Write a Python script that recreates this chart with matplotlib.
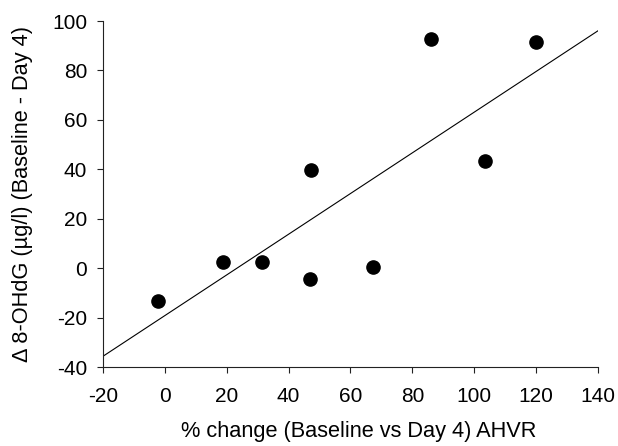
import numpy as np
import matplotlib
matplotlib.use("Agg")
import matplotlib.pyplot as plt

plt.rcParams['font.family'] = ['Liberation Sans', 'DejaVu Sans']

# % change (Baseline vs Day 4) AHVR
pct_change = [-2.1, 18.7, 31.4, 47.2, 47.0, 67.4, 86.1, 103.4, 120.0]
# delta 8-OHdG (ug/l)
delta_ohdg = [-13.3, 2.4, 2.4, 39.6, -4.5, 0.3, 92.6, 43.5, 91.6]

x_ticks = [-20, 0, 20, 40, 60, 80, 100, 120, 140]
y_ticks = [-40, -20, 0, 20, 40, 60, 80, 100]


def main():
    fig = plt.figure(figsize=(6.18, 4.46), dpi=100)
    ax = fig.add_axes([0.1667, 0.1771, 0.8009, 0.7758])

    x = np.array(pct_change)
    y = np.array(delta_ohdg)
    ax.plot(x, y, 'o', color='k', markersize=9.5, zorder=3)

    # least squares fit across the full x range
    slope, icpt = np.polyfit(x, y, 1)
    xl = np.array([x_ticks[0], x_ticks[-1]])
    ax.plot(xl, slope * xl + icpt, color='k', lw=0.8, zorder=2)

    ax.set_xlim(x_ticks[0], x_ticks[-1])
    ax.set_ylim(y_ticks[0], y_ticks[-1])
    ax.set_xticks(x_ticks)
    ax.set_yticks(y_ticks)
    ax.set_xticklabels([str(t) for t in x_ticks])
    ax.set_yticklabels([str(t) for t in y_ticks])

    for sp in ('top', 'right'):
        ax.spines[sp].set_visible(False)
    for sp in ('left', 'bottom'):
        ax.spines[sp].set_linewidth(0.8)
        ax.spines[sp].set_color('#222222')
    ax.tick_params(direction='out', length=4.3, width=0.8, labelsize=15,
                   color='#222222')
    ax.tick_params(axis='x', pad=10)
    ax.tick_params(axis='y', pad=7)

    ax.set_xlabel('% change (Baseline vs Day 4) AHVR', fontsize=15.7)
    ax.set_ylabel('\u0394 8-OHdG (\u00b5g/l) (Baseline - Day 4)',
                  fontsize=15.7, labelpad=14)
    ax.xaxis.set_label_coords(0.516, -0.155)

    fig.savefig('out.png', dpi=100)
    plt.close()


if __name__ == '__main__':
    main()
